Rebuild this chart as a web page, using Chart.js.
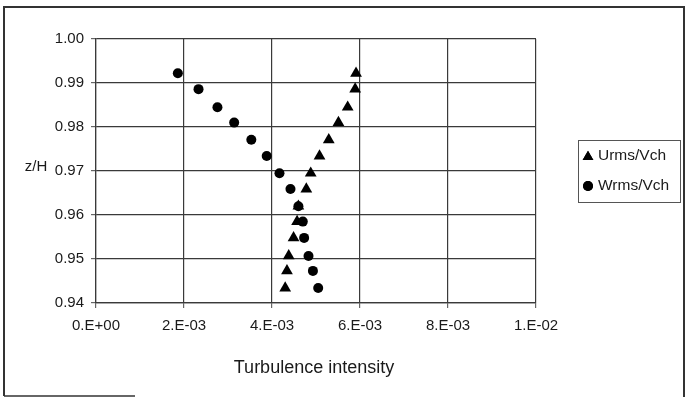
<!DOCTYPE html>
<html>
<head>
<meta charset="utf-8">
<script src="https://cdn.jsdelivr.net/npm/chart.js@4.4.1/dist/chart.umd.min.js"></script>
<style>
  html, body { margin: 0; padding: 0; background: #fff; }
  #wrap { width: 685px; height: 397px; position: relative; }
</style>
</head>
<body>
<div id="wrap"><canvas id="c" width="685" height="397"></canvas></div>
<script>
// ---- Data ----
const zH   = [0.9922, 0.9886, 0.9845, 0.9810, 0.9771, 0.9734, 0.9695, 0.9659, 0.9620, 0.9585, 0.9548, 0.9507, 0.9473, 0.9434];
const urms = [0.00591, 0.00589, 0.00572, 0.00551, 0.00529, 0.00508, 0.00488, 0.00478, 0.00460, 0.00457, 0.00449, 0.00438, 0.00434, 0.00430];
const wrms = [0.00186, 0.00233, 0.00276, 0.00314, 0.00353, 0.00388, 0.00417, 0.00442, 0.00460, 0.00470, 0.00473, 0.00483, 0.00493, 0.00505];
const seriesNames = ['Urms/Vch', 'Wrms/Vch'];
const xTickLabels = ['0.E+00', '2.E-03', '4.E-03', '6.E-03', '8.E-03', '1.E-02'];
const yTickLabels = ['0.94', '0.95', '0.96', '0.97', '0.98', '0.99', '1.00'];
const xTitle = 'Turbulence intensity';
const yTitle = 'z/H';

const FONT = '"Liberation Sans", Arial, sans-serif';
const INK = '#1a1a1a';
const GRID = '#3a3a3a';

const decorPlugin = {
  id: 'decor',
  afterDraw(chart) {
    const ctx = chart.ctx;
    const ca = chart.chartArea;
    ctx.save();
    // outer frame
    ctx.strokeStyle = '#333';
    ctx.lineWidth = 2;
    ctx.beginPath();
    ctx.moveTo(4, 396); ctx.lineTo(4, 7); ctx.lineTo(684, 7); ctx.lineTo(684, 397);
    ctx.stroke();
    ctx.lineWidth = 1.5;
    ctx.beginPath();
    ctx.moveTo(4, 396); ctx.lineTo(135, 396);
    ctx.stroke();
    // axis titles
    ctx.fillStyle = INK;
    ctx.textAlign = 'center';
    ctx.textBaseline = 'middle';
    ctx.font = '15px ' + FONT;
    ctx.fillText(yTitle, 36, 167);
    ctx.font = '18px ' + FONT;
    ctx.fillText(xTitle, 314, 368);
    // legend
    ctx.strokeStyle = '#555';
    ctx.lineWidth = 1;
    ctx.strokeRect(578.5, 140.5, 102, 62);
    ctx.font = '15.5px ' + FONT;
    ctx.textAlign = 'left';
    const items = [{ y: 156, style: 'triangle', r: 6.2 }, { y: 186, style: 'circle', r: 5 }];
    items.forEach((it, i) => {
      ctx.fillStyle = '#000';
      const cy = it.style === 'triangle' ? it.y + 1 : it.y;
      if (Chart.helpers && Chart.helpers.drawPoint) {
        Chart.helpers.drawPoint(ctx, { pointStyle: it.style, radius: it.r, borderWidth: 0, rotation: 0 }, 588, cy);
        ctx.fill();
      } else {
        ctx.beginPath();
        if (it.style === 'circle') ctx.arc(588, cy, it.r, 0, Math.PI * 2);
        else { ctx.moveTo(588, cy - it.r); ctx.lineTo(588 + it.r * 0.87, cy + it.r * 0.5); ctx.lineTo(588 - it.r * 0.87, cy + it.r * 0.5); ctx.closePath(); }
        ctx.fill();
      }
      ctx.fillStyle = INK;
      ctx.fillText(seriesNames[i], 598, it.y);
    });
    ctx.restore();
  }
};

new Chart(document.getElementById('c'), {
  type: 'scatter',
  data: {
    datasets: [
      {
        label: seriesNames[0],
        data: zH.map((z, i) => ({ x: urms[i], y: z })),
        pointStyle: 'triangle',
        pointRadius: 6.8,
        backgroundColor: '#000',
        borderColor: '#000',
        borderWidth: 0
      },
      {
        label: seriesNames[1],
        data: zH.map((z, i) => ({ x: wrms[i], y: z })),
        pointStyle: 'circle',
        pointRadius: 5,
        backgroundColor: '#000',
        borderColor: '#000',
        borderWidth: 0
      }
    ]
  },
  options: {
    responsive: false,
    animation: false,
    devicePixelRatio: 1,
    layout: { padding: { top: 39, right: 149, left: 0, bottom: 0 } },
    plugins: { legend: { display: false }, tooltip: { enabled: false } },
    scales: {
      x: {
        type: 'linear',
        min: 0, max: 0.01,
        afterFit(s) { s.height = 94; },
        afterBuildTicks(s) { s.ticks = xTickLabels.map((_, i) => ({ value: i * 0.002 })); },
        ticks: {
          callback: (v, i) => xTickLabels[i],
          font: { family: FONT, size: 15 },
          color: INK,
          padding: 9,
          maxRotation: 0,
          autoSkip: false
        },
        grid: { color: GRID, lineWidth: 1.2, tickLength: 5, tickColor: '#666' },
        border: { color: GRID, width: 1.2 }
      },
      y: {
        type: 'linear',
        min: 0.94, max: 1.0,
        afterFit(s) { s.width = 96; },
        afterBuildTicks(s) { s.ticks = yTickLabels.map((t) => ({ value: parseFloat(t) })); },
        ticks: {
          callback: (v, i) => yTickLabels[i],
          font: { family: FONT, size: 15 },
          color: INK,
          padding: 7,
          autoSkip: false
        },
        grid: { color: GRID, lineWidth: 1.2, tickLength: 5, tickColor: '#666' },
        border: { color: GRID, width: 1.2 }
      }
    }
  },
  plugins: [decorPlugin]
});
</script>
</body>
</html>
